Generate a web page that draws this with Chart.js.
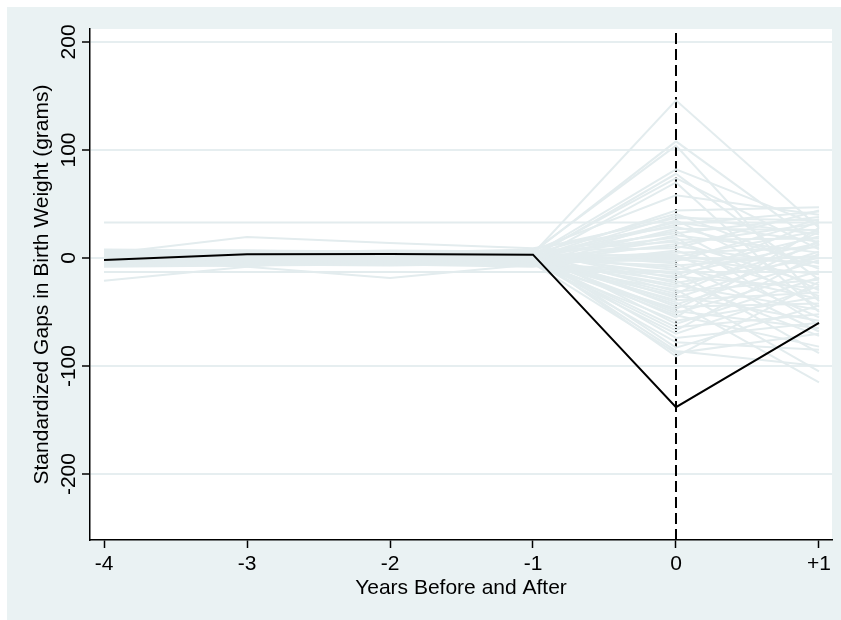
<!DOCTYPE html>
<html>
<head>
<meta charset="utf-8">
<script src="https://cdn.jsdelivr.net/npm/chart.js@4.4.0/dist/chart.umd.min.js"></script>
<style>
  html, body { margin: 0; padding: 0; background: #fff; }
  #wrap { width: 841px; height: 620px; }
</style>
</head>
<body>
<div id="wrap"><canvas id="chart" width="841" height="620"></canvas></div>
<script>
// Placebo-gap plot: treated unit (black) against placebo units (light), event at year 0.

const years = [-4, -3, -2, -1, 0, 1];
const xTickLabels = ["-4", "-3", "-2", "-1", "0", "+1"];
const yTicks = [-200, -100, 0, 100, 200];
const xTitle = "Years Before and After";
const yTitle = "Standardized Gaps in Birth Weight (grams)";

// treated unit
const treated = [-1.8, 3.4, 3.8, 3.1, -138, -60];

// placebo units, one array per year (same index = same unit)
const placeboM4 = [2, -1, 4, 1, -3, 5, 0, 6, -5, 3, -2, 7, -6, 2, -21, 4, -3, 1, 8, -7, 3, -1, 5, -4, 0, 6, -8, 2, -2, 4, -5, 1, 7, -3, 0, 5, -6, 2, -1, 3, -4, 6, -2, 1, -7, 4, 0, -3, 5, -5, 2, -1, 3, -6, 0, 4, -2, 1, -4, 6, -3, 2, -5, 3, -1, 0, -7, 4, -2, 1];
const placeboM3 = [1, 2, 3, -2, 0, 4, -1, 5, -3, 2, -4, 6, -5, 3, -8, 19.5, -8, 0, 7, -6, 1, -2, 6, -3, 1, 4, -7, 0, -1, 5, -4, 2, 5, -2, -1, 3, -4, 1, 0, 4, -5, 5, -3, 3, -5, 2, -2, -1, 6, -6, 0, -3, 2, -4, 1, 3, -1, 0, -3, 7, -2, 1, -4, 5, 0, 2, -6, 3, 0, -1];
const placeboM2 = [3, 0, 2, -1, 2, 3, 1, 4, -2, 5, -3, 5, -4, 1, 2, 14, -18.5, -1, 6, -5, 2, 0, 4, -5, 2, 5, -6, -2, 1, 3, -6, 0, 6, -4, 0, 4, -3, 3, -1, 2, -2, 7, -1, 2, -6, 3, 1, -2, 5, -4, 1, 0, 4, -5, -1, 2, -3, 2, -2, 5, -4, 0, -3, 3, -2, 1, -7, 4, -1, 0];
const placeboM1 = [4, 5, 6, 3, 1, 2, -2, 7, 0, 4, -1, 8, -6, 2, 1, 9, -6, 0, 5, -7, 3, -3, 6, -4, 1, 7, -8, -1, 2, 4, -5, -1, 5, -2, 1, 3, -5, 2, -4, 5, -3, 6, -2, 0, -7, 4, -1, -4, 3, -3, 2, 1, 5, -6, 0, 1, -2, 3, -5, 6, -1, -2, -4, 2, -3, 4, -5, 2, 0, -1];
const placebo0 = [146, 108, 104, 82, 78, 74, 70, 58, 44, 41, 39, 37, 35, 33, 31, 29, 27, 25, 23, 21, 19, 17, 15, 13, 11, 9, 7, 5, 3, 1, -1, -3, -5, -7, -9, -11, -13, -15, -17, -19, -21, -23, -25, -27, -29, -31, -33, -35, -37, -39, -41, -43, -45, -47, -49, -51, -53, -55, -58, -61, -64, -67, -70, -74, -78, -83, -88, -91, -86, 0];
const placeboP1 = [28, 12, -40, 30, -20, 8, -50, 40, 47, -10, 22, 35, -30, 15, 43, -5, 26, -45, 38, 5, -62, 18, -25, 32, -8, 44, -35, 10, -55, 25, -15, 36, -68, 2, -38, 20, -88, 14, -28, 34, -72, 0, -48, 12, -105, -20, 24, -58, 6, -32, -115, -2, -42, 16, -65, -12, -82, 28, -36, -18, -52, 4, -26, -60, -85, -44, -70, -22, -100, -4];

// flat reference bands seen in the pre-period
const refLevels = [33, -13];

const X_MIN = -4.098, X_MAX = 1.091;
const Y_MIN = -261, Y_MAX = 212;

const PANEL = "#EAF2F3";
const PLACEBO = "#E3ECEE";
const GRID = "#E6EEF0";
const FONT_FAMILY = "'Liberation Sans', Arial, sans-serif";
const FONT_SIZE = 21;

const toPts = (vals) => years.map((x, i) => ({ x, y: vals[i] }));

const placeboSets = placebo0.map((_, i) => ({
  data: toPts([placeboM4[i], placeboM3[i], placeboM2[i], placeboM1[i], placebo0[i], placeboP1[i]]),
  borderColor: PLACEBO, borderWidth: 2, showLine: true, pointRadius: 0, order: 2,
}));

const refSets = refLevels.map((v) => ({
  data: [{ x: years[0], y: v }, { x: X_MAX, y: v }],
  borderColor: PLACEBO, borderWidth: 2, showLine: true, pointRadius: 0, order: 3,
}));

const eventLine = {
  data: [{ x: 0, y: Y_MIN }, { x: 0, y: Y_MAX }],
  borderColor: "#000", borderWidth: 2, borderDash: [11, 5], showLine: true, pointRadius: 0, order: 4,
};

const treatedSet = {
  data: toPts(treated),
  borderColor: "#000", borderWidth: 2, showLine: true, pointRadius: 0, order: 0,
};

const stataFrame = {
  id: "stataFrame",
  beforeDraw(chart) {
    const { ctx, chartArea: a } = chart;
    ctx.save();
    ctx.fillStyle = PANEL;
    ctx.fillRect(7, 7, chart.width - 7, chart.height - 7);
    ctx.fillStyle = "#fff";
    ctx.fillRect(a.left, a.top, a.right - a.left, a.bottom - a.top);
    ctx.restore();
  },
  afterDraw(chart) {
    const { ctx, chartArea: a, scales: { y } } = chart;
    ctx.save();
    ctx.fillStyle = "#000";
    ctx.font = `${FONT_SIZE}px ${FONT_FAMILY}`;
    ctx.textAlign = "center";
    ctx.textBaseline = "alphabetic";
    // rotated y tick labels
    yTicks.forEach((v) => {
      ctx.save();
      ctx.translate(75, y.getPixelForValue(v));
      ctx.rotate(-Math.PI / 2);
      ctx.fillText(String(v), 0, 0);
      ctx.restore();
    });
    // y title
    ctx.save();
    ctx.translate(48, (a.top + a.bottom) / 2);
    ctx.rotate(-Math.PI / 2);
    ctx.fillText(yTitle, 0, 0);
    ctx.restore();
    // x title
    ctx.fillText(xTitle, (a.left + a.right) / 2, 594);
    ctx.restore();
  },
};

new Chart(document.getElementById("chart"), {
  type: "scatter",
  data: { datasets: [treatedSet, ...placeboSets, ...refSets, eventLine] },
  options: {
    responsive: false,
    animation: false,
    events: [],
    layout: { padding: { top: 29, right: 9, left: 0, bottom: 0 } },
    plugins: { legend: { display: false }, tooltip: { enabled: false } },
    scales: {
      x: {
        type: "linear", min: X_MIN, max: X_MAX,
        afterBuildTicks: (s) => { s.ticks = years.map((v) => ({ value: v })); },
        afterFit: (s) => { s.height = 80; },
        ticks: {
          color: "#000", padding: 4, maxRotation: 0, autoSkip: false,
          font: { family: FONT_FAMILY, size: FONT_SIZE },
          callback: (v) => xTickLabels[years.indexOf(v)] ?? "",
        },
        grid: { drawOnChartArea: false, tickColor: "#000", tickLength: 8, tickWidth: 1.5 },
        border: { color: "#000", width: 1.5 },
      },
      y: {
        type: "linear", min: Y_MIN, max: Y_MAX,
        afterBuildTicks: (s) => { s.ticks = yTicks.map((v) => ({ value: v })); },
        afterFit: (s) => { s.width = 90; },
        ticks: { display: false },
        grid: { color: GRID, lineWidth: 2, tickColor: "#000", tickLength: 8, tickWidth: 1.5 },
        border: { color: "#000", width: 1.5 },
      },
    },
  },
  plugins: [stataFrame],
});
</script>
</body>
</html>
